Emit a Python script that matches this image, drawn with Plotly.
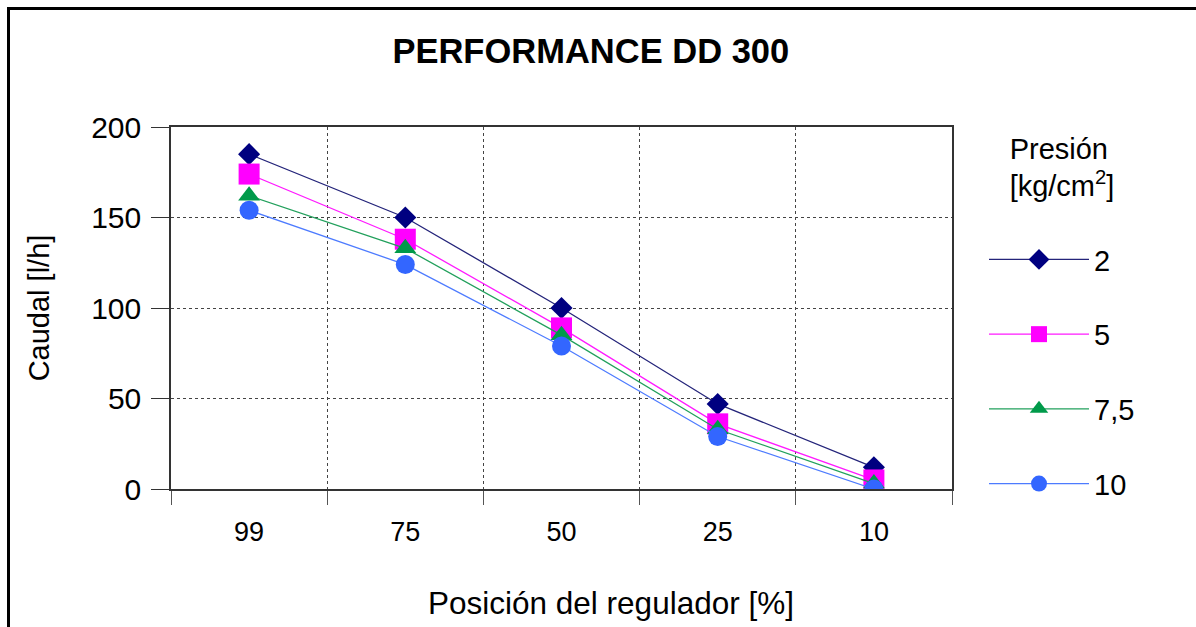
import plotly.graph_objects as go

# Regulator positions (%) and flow (l/h) for each pressure (kg/cm2)
posicion = ["99", "75", "50", "25", "10"]
caudal_2 = [185, 150, 100, 47, 12]
caudal_5 = [174, 138, 89, 36, 5]
caudal_7_5 = [162, 133, 85, 33, 3]
caudal_10 = [154, 124, 79, 29, 0]

series = [
    ("2", caudal_2, "#000080", "#24247a", "diamond", 17),
    ("5", caudal_5, "#ff00ff", "#ff1aff", "square", 21),
    ("7,5", caudal_7_5, "#009a4a", "#22a05c", "triangle-up", 19),
    ("10", caudal_10, "#3366ff", "#4d7bff", "circle", 19),
]

W, H = 1196, 627
L, R, T, B = 171, 244, 127, 138
FONT = "Liberation Sans, Arial, sans-serif"

fig = go.Figure()
for i, (name, vals, mcol, lcol, sym, size) in enumerate(series):
    fig.add_trace(go.Scatter(
        x=posicion, y=vals, name=name, mode="lines+markers",
        legendgroup=f"g{i}",
        line=dict(color=lcol, width=1.3),
        marker=dict(color=mcol, symbol=sym, size=size, line=dict(width=0)),
    ))

# dotted vertical grid lines through each category
shapes = [
    dict(type="line", xref="x", yref="paper", x0=c, x1=c, y0=0, y1=1,
         line=dict(color="#444", width=1, dash="dot"), layer="below")
    for c in posicion
]
# outer frame of the figure
pw, ph = W - L - R, H - T - B
shapes.append(dict(
    type="rect", xref="paper", yref="paper",
    x0=(8.5 - L) / pw, x1=(W + 20 - L) / pw,
    y0=(H - T - B - (H + 20 - T)) / ph, y1=(H - B - 8.5) / ph,
    line=dict(color="black", width=3), fillcolor="rgba(0,0,0,0)", layer="above",
))

fig.update_layout(
    width=W, height=H,
    margin=dict(l=L, r=R, t=T, b=B, autoexpand=False),
    paper_bgcolor="white", plot_bgcolor="white",
    font=dict(family=FONT, color="black"),
    title=dict(text="<b>PERFORMANCE DD 300</b>", font=dict(size=34.5, family=FONT),
               xref="container", x=0.494, xanchor="center",
               yref="container", y=1 - 51 / H, yanchor="middle"),
    shapes=shapes,
    annotations=[dict(
        text="Posición del regulador [%]", xref="paper", yref="paper",
        x=(611 - L) / pw, xanchor="center", y=(H - B - 603) / ph, yanchor="middle",
        showarrow=False, font=dict(size=31.5, family=FONT),
    )],
    showlegend=True,
    legend=dict(
        title=dict(text="Presión<br>[kg/cm<sup>2</sup>]<br> ", side="top center",
                   font=dict(size=29, family=FONT)),
        font=dict(size=29, family=FONT),
        x=(984 - L) / pw, xanchor="left", y=(H - B - 121) / ph, yanchor="top",
        tracegroupgap=34, traceorder="grouped", itemwidth=100,
        maxheight=900,
        bgcolor="rgba(0,0,0,0)",
    ),
    xaxis=dict(
        type="category", categoryorder="array", categoryarray=posicion,
        range=[-0.5, len(posicion) - 0.5],
        tickson="boundaries", ticks="outside", ticklen=14, tickwidth=1, tickcolor="#555",
        showgrid=True, griddash="dot", gridcolor="#444", gridwidth=1,
        showline=True, linecolor="#333", linewidth=1.5, mirror=True,
        tickfont=dict(size=27, family=FONT),
        ticklabelstandoff=18,
        fixedrange=True,
    ),
    yaxis=dict(
        range=[0, 200], dtick=50, tick0=0,
        ticks="outside", ticklen=18, tickwidth=1, tickcolor="#333",
        showgrid=True, griddash="dot", gridcolor="#444", gridwidth=1,
        showline=True, linecolor="#333", linewidth=1.5, mirror=True,
        zeroline=False,
        tickfont=dict(size=30, family=FONT),
        ticklabelstandoff=4,
        title=dict(text="Caudal [l/h]", font=dict(size=29, family=FONT), standoff=33),
        fixedrange=True,
    ),
)

fig.write_html("out.html")
